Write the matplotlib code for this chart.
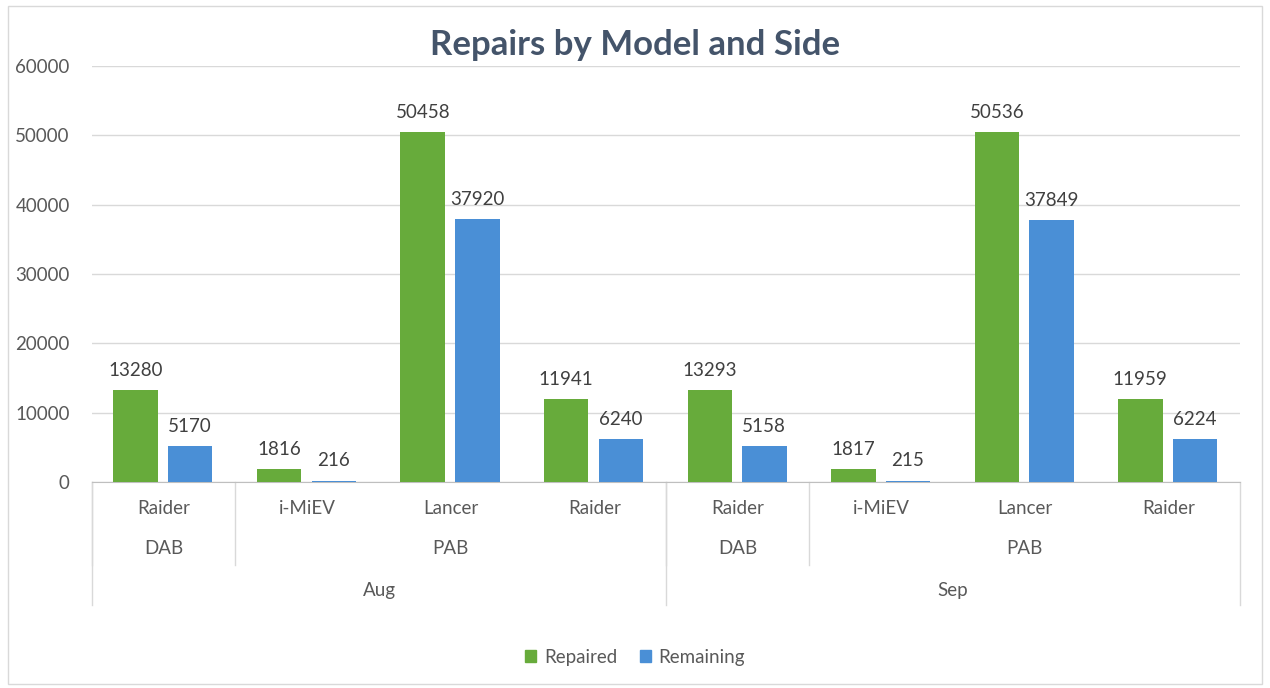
import numpy as np
import matplotlib.pyplot as plt
from matplotlib.patches import Patch, Rectangle
import matplotlib.transforms as mtransforms

plt.rcParams['font.family'] = ['Lato', 'DejaVu Sans']

models = ['Raider', 'i-MiEV', 'Lancer', 'Raider', 'Raider', 'i-MiEV', 'Lancer', 'Raider']
sides = ['DAB', 'PAB', 'DAB', 'PAB']
side_spans = [(0, 0), (1, 3), (4, 4), (5, 7)]
months = ['Aug', 'Sep']
month_spans = [(0, 3), (4, 7)]
repaired = [13280, 1816, 50458, 11941, 13293, 1817, 50536, 11959]
remaining = [5170, 216, 37920, 6240, 5158, 215, 37849, 6224]

green = '#67AB3B'
blue = '#4A8FD6'
txt = '#595959'
fs = 13.5

fig = plt.figure(figsize=(12.7, 6.88), dpi=100)
fig.patches.append(Rectangle((0.006, 0.006), 0.988, 0.986, transform=fig.transFigure,
                             fill=False, edgecolor='#D9D9D9', linewidth=1))
ax = fig.add_axes([0.0724, 0.2994, 0.904, 0.6046])

x = np.arange(len(models))
w = 0.31
ax.bar(x - 0.195, repaired, w, color=green, zorder=3)
ax.bar(x + 0.185, remaining, w, color=blue, zorder=3)

for i in range(len(models)):
    ax.annotate(str(repaired[i]), (x[i] - 0.195, repaired[i]), xytext=(0, 8),
                textcoords='offset points', ha='center', va='bottom', fontsize=fs, color='#404040')
    ax.annotate(str(remaining[i]), (x[i] + 0.185, remaining[i]), xytext=(0, 8),
                textcoords='offset points', ha='center', va='bottom', fontsize=fs, color='#404040')

ax.set_xlim(-0.5, len(models) - 0.5)
ax.set_ylim(0, 60000)
ax.set_yticks(np.arange(0, 60001, 10000))
ax.set_yticklabels([str(v) for v in range(0, 60001, 10000)], fontsize=fs, color=txt)
ax.tick_params(axis='y', length=0, pad=16)
ax.set_xticks([])
ax.grid(axis='y', color='#D9D9D9', linewidth=1, zorder=0)
for s in ['top', 'right', 'left']:
    ax.spines[s].set_visible(False)
ax.spines['bottom'].set_color('#BFBFBF')

# hierarchical category axis
tr = mtransforms.blended_transform_factory(ax.transData, ax.transAxes)
for i, m in enumerate(models):
    ax.text(i, -0.0625, m, transform=tr, ha='center', va='center', fontsize=fs, color=txt)
for s, (a, b) in zip(sides, side_spans):
    ax.text((a + b) / 2, -0.161, s, transform=tr, ha='center', va='center', fontsize=fs, color=txt)
for m, (a, b) in zip(months, month_spans):
    ax.text((a + b) / 2, -0.26, m, transform=tr, ha='center', va='center', fontsize=fs, color=txt)

sep_col = '#D9D9D9'
for a, b in side_spans:
    ax.plot([a - 0.5, a - 0.5], [0, -0.2], transform=tr, color=sep_col, lw=1, clip_on=False)
for a, b in month_spans:
    ax.plot([a - 0.5, a - 0.5], [0, -0.296], transform=tr, color=sep_col, lw=1, clip_on=False)
ax.plot([len(models) - 0.5] * 2, [0, -0.296], transform=tr, color=sep_col, lw=1, clip_on=False)

fig.text(0.5, 0.935, 'Repairs by Model and Side', ha='center', va='center',
         fontsize=25, fontweight='bold', color='#44546A')

handles = [Patch(color=green, label='Repaired'), Patch(color=blue, label='Remaining')]
fig.legend(handles=handles, loc='center', bbox_to_anchor=(0.5, 0.045), ncol=2, frameon=False,
           fontsize=fs, handlelength=0.6, handleheight=0.6, handletextpad=0.4, columnspacing=1.2,
           labelcolor=txt)

fig.savefig('out.png', dpi=100, facecolor='white')
